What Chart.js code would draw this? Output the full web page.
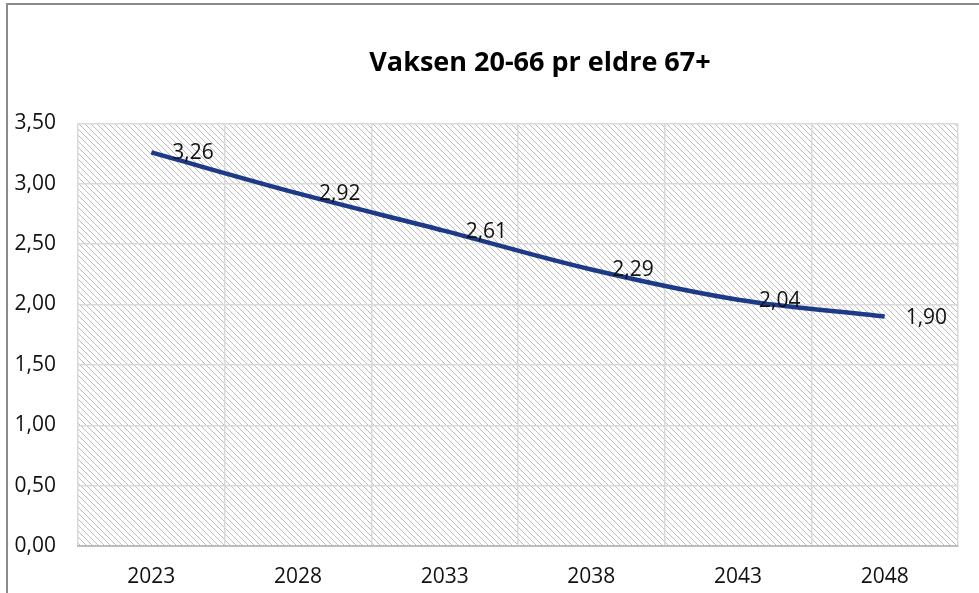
<!DOCTYPE html>
<html>
<head>
<meta charset="utf-8">
<script src="https://cdn.jsdelivr.net/npm/chart.js@4"></script>
<style>
  html, body { margin: 0; padding: 0; background: #fff; overflow: hidden; }
  #frame {
    position: absolute; left: 6px; top: 3px;
    width: 1064px; height: 600px;
    border-left: 2px solid #8a8a8a; border-top: 2px solid #8a8a8a;
  }
  canvas { display: block; }
</style>
</head>
<body>
<div id="frame"><canvas id="myChart" width="1064" height="600"></canvas></div>
<script>
const years = ['2023', '2028', '2033', '2038', '2043', '2048'];
const ratio = [3.26, 2.92, 2.61, 2.29, 2.04, 1.90];
const yTicks = [0, 0.5, 1, 1.5, 2, 2.5, 3, 3.5];

const fmt = v => v.toFixed(2).replace('.', ',');
const font = '"Open Sans", "Noto Sans", sans-serif';

// grey diagonal hatch used by the plot area
function hatch() {
  const c = document.createElement('canvas');
  c.width = 6; c.height = 6;
  const g = c.getContext('2d');
  g.fillStyle = '#fff';
  g.fillRect(0, 0, 6, 6);
  g.strokeStyle = '#bcbcbc';
  g.lineWidth = 1;
  g.beginPath();
  g.moveTo(-1, -1); g.lineTo(7, 7);
  g.moveTo(-1, 5); g.lineTo(1, 7);
  g.moveTo(5, -1); g.lineTo(7, 1);
  g.stroke();
  return g.createPattern(c, 'repeat');
}

const areaFill = {
  id: 'areaFill',
  beforeDraw(chart) {
    const { ctx, chartArea: a } = chart;
    ctx.save();
    ctx.fillStyle = hatch();
    ctx.fillRect(a.left, a.top, a.right - a.left, a.bottom - a.top);
    ctx.restore();
  }
};

// centre the title on the whole canvas, not on the padded area
const titleSpan = {
  id: 'titleSpan',
  afterLayout(chart) {
    const t = chart.titleBlock;
    if (t) { t.left = 0; t.right = chart.width; t.width = chart.width; }
  }
};

const valueLabels = {
  id: 'valueLabels',
  afterDatasetsDraw(chart) {
    const ctx = chart.ctx;
    const meta = chart.getDatasetMeta(0);
    ctx.save();
    ctx.font = '21px ' + font;
    ctx.fillStyle = '#111';
    ctx.textAlign = 'left';
    ctx.textBaseline = 'middle';
    meta.data.forEach((pt, i) => {
      ctx.fillText(fmt(ratio[i]), pt.x + 21, pt.y + 1);
    });
    ctx.restore();
  }
};

new Chart(document.getElementById('myChart'), {
  type: 'line',
  data: {
    labels: years,
    datasets: [{
      data: ratio,
      borderColor: '#1c3a88',
      borderWidth: 4.5,
      pointRadius: 0,
      tension: 0.35,
      fill: false
    }]
  },
  options: {
    responsive: false,
    animation: false,
    layout: { padding: { left: 0, right: 114, top: 0, bottom: 0 } },
    plugins: {
      legend: { display: false },
      tooltip: { enabled: false },
      title: {
        display: true,
        text: 'Vaksen 20-66 pr eldre 67+',
        color: '#000',
        font: { family: font, size: 27, weight: 'bold' },
        padding: { top: 42, bottom: 44 }
      }
    },
    scales: {
      x: {
        offset: true,
        grid: { offset: true, color: '#d9d9d9', lineWidth: 1.5, drawTicks: false },
        border: { color: '#bdbdbd', width: 2 },
        ticks: { color: '#111', font: { family: font, size: 21 }, padding: 18 },
        afterFit(s) { s.height = 59; }
      },
      y: {
        min: 0, max: 3.5,
        afterBuildTicks(s) { s.ticks = yTicks.map(v => ({ value: v })); },
        grid: { color: '#d9d9d9', lineWidth: 1.5, drawTicks: false },
        border: { display: false },
        ticks: {
          color: '#111', font: { family: font, size: 21 }, padding: 22,
          callback: v => fmt(v)
        },
        afterFit(s) { s.width = 70; }
      }
    }
  },
  plugins: [areaFill, titleSpan, valueLabels]
});
</script>
</body>
</html>
